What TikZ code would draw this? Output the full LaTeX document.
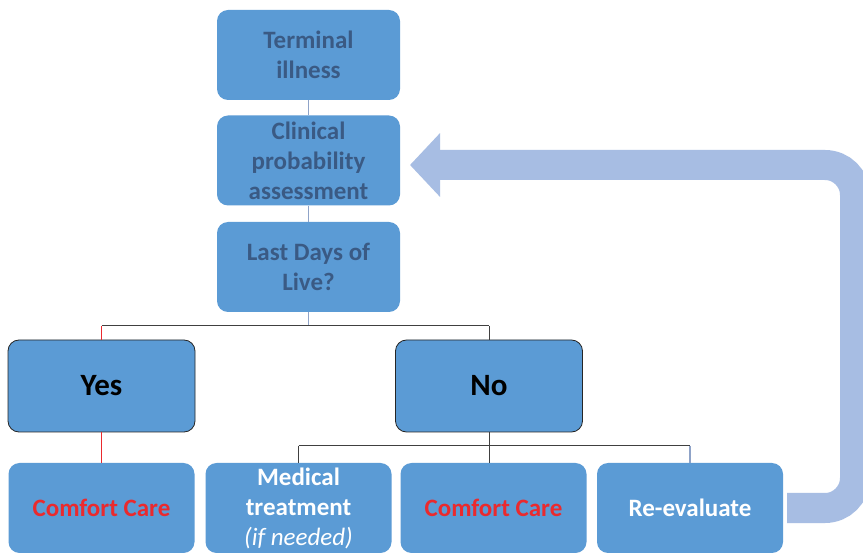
\documentclass[tikz,border=0pt]{standalone}
\usepackage{fontspec}
\setmainfont{Carlito}
\usepackage{xcolor}
\usepackage{tikz}
\usetikzlibrary{positioning,arrows.meta,calc}
\definecolor{boxblue}{HTML}{5B9BD5}
\definecolor{loopblue}{HTML}{A7BDE3}
\definecolor{headblue}{HTML}{3A5A84}
\definecolor{carered}{HTML}{EA2A2E}
\definecolor{stemblue}{HTML}{8FA3C8}
\tikzset{
    %% Define styles for the decision tree
    % basic box (filled, rounded)
    tbase/.style = {fill=boxblue, rounded corners=11pt, inner sep=0, align=center, minimum width=183pt, minimum height=90pt},
    % question boxes on the stem
    tstem/.style = {tbase, text=headblue, font=\bfseries\fontsize{25}{30}\selectfont},
    % answer boxes (with border)
    tanswer/.style = {tbase, draw=black!85, line width=0.8pt, minimum width=187pt, minimum height=92pt, font=\bfseries\fontsize{31}{30}\selectfont},
    % outcome boxes
    toutcome/.style = {tbase, minimum width=186pt, text=white, font=\bfseries\fontsize{25}{30}\selectfont},
    % red outcome text
    tred/.style = {toutcome, text=carered},
    % stem connection (light lines)
    sconc/.style = {stemblue, line width=1.2pt},
    % tree connection (dark lines)
    tconc/.style = {black!75, line width=1pt},
    % red connection
    rconc/.style = {carered, line width=0.8pt},
    % feedback loop (wide arrow)
    floop/.style = {loopblue, line width=30pt, rounded corners=30pt, -{Triangle[length=30pt,width=62pt]}}
  }
\begin{document}
\begin{tikzpicture}[x=1pt,y=-1pt]
\clip (0,0) rectangle (863,553);
\fill[white] (0,0) rectangle (863,553);

% stem
\node [tstem] (term) at (308.5,55) {Terminal\\illness};
\node [tstem] (clin) at (308.5,160.5) {Clinical\\probability\\assessment};
\node [tstem] (last) at (308.5,267) {Last Days of\\Live?};

% answers
\node [tanswer] (yes) at (101.5,386) {Yes};
\node [tanswer] (no) at (489,386) {No};

% outcomes
\node [tred] (care1) at (101.5,508) {Comfort Care};
\node [toutcome] (med) at (298.5,508) {Medical\\treatment\\{\mdseries\itshape (if needed)}};
\node [tred] (care2) at (493.5,508) {Comfort Care};
\node [toutcome] (reeval) at (690,508) {Re-evaluate};

\coordinate (split1) at (308.5,326);
\coordinate (split2) at (490,446);
\coordinate (loopturn) at (855,165);
\coordinate (loopin) at (410,165);

\draw [sconc] (term.south) -- (clin.north);
\draw [sconc] (clin.south) -- (last.north);
\draw [sconc] (last.south) -- (split1);
\draw [tconc] (yes.north |- split1) -- (no.north |- split1);
\draw [rconc] (yes.north |- split1) -- (yes.north);
\draw [tconc] (no.north |- split1) -- (no.north);
\draw [rconc] (yes.south) -- (yes.south |- care1.north);

\draw [tconc] (no.south) -- (no.south |- care2.north);
\draw [tconc] (med.north |- split2) -- (reeval.north |- split2);
\draw [tconc] (med.north |- split2) -- (med.north);
\draw [sconc] (reeval.north |- split2) -- (reeval.north);

\draw [floop] ($(reeval.east)+(4,0)$) -| (loopturn) -- (loopin);

\end{tikzpicture}
\end{document}
